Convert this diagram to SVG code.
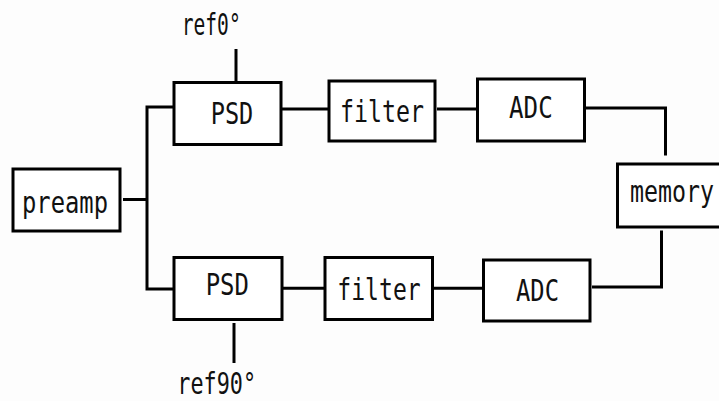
<svg xmlns="http://www.w3.org/2000/svg" width="719" height="401" viewBox="0 0 719 401">
<style>
.box{fill:#fff;stroke:#000;stroke-width:3}
.ln{fill:none;stroke:#000;stroke-width:3}
.t{font-family:"DejaVu Sans Mono","Liberation Mono",monospace;font-size:30px;fill:#111}
</style>
<rect width="719" height="401" fill="#fdfdfd"/>
<g id="connectors">
<path class="ln" d="M123,199.5 H147"/>
<path class="ln" d="M173,107 H147 V289 H173"/>
<path class="ln" d="M282,109 H328"/>
<path class="ln" d="M437,109 H477"/>
<path class="ln" d="M586,108 H665.5 V155.5"/>
<path class="ln" d="M283,288.3 H324"/>
<path class="ln" d="M434,288.3 H483"/>
<path class="ln" d="M592,287 H661.5 V230.5"/>
<path class="ln" d="M236,49 V81"/>
<path class="ln" d="M234,323 V363"/>
</g>
<g id="preamp"><rect class="box" x="13" y="169" width="107" height="62"/><text class="t" x="22" y="212.7" textLength="86" lengthAdjust="spacingAndGlyphs">preamp</text></g>
<g id="psd1"><rect class="box" x="174" y="82.5" width="107" height="62"/><text class="t" x="210.7" y="124" textLength="42.6" lengthAdjust="spacingAndGlyphs">PSD</text></g>
<g id="filter1"><rect class="box" x="329" y="81" width="106" height="60"/><text class="t" x="340" y="121.7" textLength="84" lengthAdjust="spacingAndGlyphs">filter</text></g>
<g id="adc1"><rect class="box" x="477.5" y="79" width="107" height="62"/><text class="t" x="509" y="118.3" textLength="43.7" lengthAdjust="spacingAndGlyphs">ADC</text></g>
<g id="psd2"><rect class="box" x="174" y="257.5" width="108" height="62"/><text class="t" x="205.7" y="295" textLength="43.3" lengthAdjust="spacingAndGlyphs">PSD</text></g>
<g id="filter2"><rect class="box" x="325" y="257.5" width="107.5" height="62"/><text class="t" x="337.3" y="300" textLength="83.4" lengthAdjust="spacingAndGlyphs">filter</text></g>
<g id="adc2"><rect class="box" x="483.5" y="260" width="106.5" height="61"/><text class="t" x="516" y="300.7" textLength="43" lengthAdjust="spacingAndGlyphs">ADC</text></g>
<g id="memory"><rect class="box" x="617.5" y="164" width="120" height="63"/><text class="t" x="630" y="201.7" textLength="84" lengthAdjust="spacingAndGlyphs">memory</text></g>
<g id="ref0"><text class="t" x="181.7" y="35" textLength="59" lengthAdjust="spacingAndGlyphs">ref0°</text></g>
<g id="ref90"><text class="t" x="177.3" y="394" textLength="78.7" lengthAdjust="spacingAndGlyphs">ref90°</text></g>
</svg>
